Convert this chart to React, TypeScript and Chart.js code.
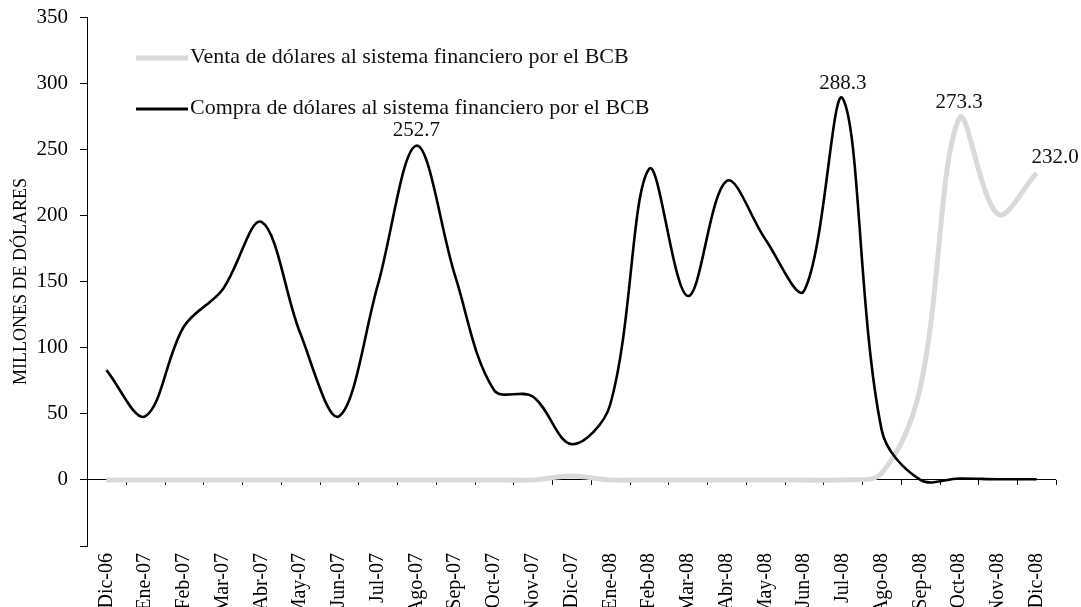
import React, { useEffect, useRef } from "react";
import { Chart, registerables } from "chart.js";

Chart.register(...registerables);

const FONT = "'Liberation Serif', 'Times New Roman', serif";

const categories = [
  "Dic-06", "Ene-07", "Feb-07", "Mar-07", "Abr-07", "May-07", "Jun-07", "Jul-07",
  "Ago-07", "Sep-07", "Oct-07", "Nov-07", "Dic-07", "Ene-08", "Feb-08", "Mar-08",
  "Abr-08", "May-08", "Jun-08", "Jul-08", "Ago-08", "Sep-08", "Oct-08", "Nov-08", "Dic-08",
];

const ventaLabel = "Venta de dólares al sistema financiero por el BCB";
const compraLabel = "Compra de dólares al sistema financiero por el BCB";

const ventaValues = [
  0, 0, 0, 0, 0, 0, 0, 0, 0, 0, 0, 0, 3, 0, 0, 0, 0, 0, 0, 0, 5, 70, 273.3, 201, 232.0,
];
const compraValues = [
  83, 48, 116, 144, 195, 111, 48, 147, 252.7, 154, 68, 63, 27, 57, 235, 139, 226, 182, 143,
  288.3, 38, 0, 1, 0.5, 0.5,
];

// indices of points that carry a value label
const compraLabeled = [8, 19];
const ventaLabeled = [22, 24];

const yMin = -50;
const yMax = 350;
const yStep = 50;
const yTitle = "MILLONES DE DÓLARES";

const ventaColor = "#d9d9d9";
const compraColor = "#000000";

const PLOT = { left: 87, top: 17, right: 1056, bottom: 546 };

const overlayPlugin = {
  id: "overlay",
  beforeDatasetsDraw(chart: any) {
    const { ctx, scales } = chart;
    const xs = scales.x;
    const ys = scales.y;
    const y0 = ys.getPixelForValue(0);
    const n = categories.length;
    const step = n > 1 ? xs.getPixelForTick(1) - xs.getPixelForTick(0) : 0;
    ctx.save();
    ctx.strokeStyle = "#000";
    ctx.lineWidth = 1;
    for (let i = 0; i < n; i++) {
      const px = Math.round(xs.getPixelForTick(i) + step / 2) + 0.5;
      ctx.beginPath();
      ctx.moveTo(px, y0);
      ctx.lineTo(px, y0 + 5);
      ctx.stroke();
    }
    ctx.restore();
  },
  afterDatasetsDraw(chart: any) {
    const { ctx, scales, chartArea } = chart;
    const xs = scales.x;
    const ys = scales.y;
    ctx.save();
    ctx.font = `21px ${FONT}`;
    ctx.fillStyle = "#111";
    ctx.textBaseline = "bottom";
    const drawLabels = (vals: number[], idxs: number[]) => {
      idxs.forEach((i) => {
        const px = xs.getPixelForValue(i);
        const py = ys.getPixelForValue(vals[i]);
        const last = i === categories.length - 1;
        ctx.textAlign = last ? "left" : "center";
        ctx.fillText(vals[i].toFixed(1), last ? px - 5 : px, py - 5);
      });
    };
    drawLabels(compraValues, compraLabeled);
    drawLabels(ventaValues, ventaLabeled);

    // legend
    const lx0 = chartArea.left + 49;
    const lx1 = chartArea.left + 101;
    const rows = [
      { y: chartArea.top + 41, color: ventaColor, width: 5, text: ventaLabel },
      { y: chartArea.top + 92, color: compraColor, width: 3, text: compraLabel },
    ];
    ctx.textAlign = "left";
    ctx.textBaseline = "middle";
    ctx.font = `22px ${FONT}`;
    rows.forEach((r) => {
      ctx.strokeStyle = r.color;
      ctx.lineWidth = r.width;
      ctx.beginPath();
      ctx.moveTo(lx0, r.y);
      ctx.lineTo(lx1, r.y);
      ctx.stroke();
      ctx.fillStyle = "#111";
      ctx.fillText(r.text, lx1 + 2, r.y - 1);
    });
    ctx.restore();
  },
};

export default function App() {
  const canvasRef = useRef<HTMLCanvasElement | null>(null);

  useEffect(() => {
    if (!canvasRef.current) return;
    const chart = new Chart(canvasRef.current, {
      type: "line",
      data: {
        labels: categories,
        datasets: [
          {
            label: ventaLabel,
            data: ventaValues,
            borderColor: ventaColor,
            borderWidth: 5,
            pointRadius: 0,
            tension: 0.35,
            fill: false,
            order: 1,
          },
          {
            label: compraLabel,
            data: compraValues,
            borderColor: compraColor,
            borderWidth: 2.6,
            pointRadius: 0,
            tension: 0.35,
            fill: false,
            order: 0,
          },
        ],
      },
      options: {
        animation: false,
        responsive: false,
        layout: { padding: { top: PLOT.top, right: 1081 - PLOT.right, bottom: 0, left: 0 } },
        plugins: {
          legend: { display: false },
          tooltip: { enabled: false },
          title: { display: false },
        },
        scales: {
          x: {
            type: "category",
            offset: true,
            grid: { display: false, drawTicks: false },
            border: { display: false },
            ticks: {
              autoSkip: false,
              maxRotation: 90,
              minRotation: 90,
              padding: 7,
              color: "#000",
              font: { family: FONT, size: 20 },
            },
            afterFit(scale: any) {
              scale.height = 607 - PLOT.bottom;
              scale.paddingTop = 0;
              scale.paddingBottom = 0;
              scale.paddingLeft = 0;
              scale.paddingRight = 0;
            },
          },
          y: {
            min: yMin,
            max: yMax,
            ticks: {
              stepSize: yStep,
              color: "#000",
              padding: 12,
              font: { family: FONT, size: 21 },
              callback: (v: any) => (Number(v) === yMin ? "" : String(v)),
            },
            grid: {
              drawOnChartArea: true,
              color: (c: any) => (c.tick && c.tick.value === 0 ? "#000" : "rgba(0,0,0,0)"),
              tickColor: "#000",
              tickLength: 7,
              lineWidth: 1,
            },
            border: { display: true, color: "#000", width: 1 },
            title: {
              display: true,
              text: yTitle,
              color: "#000",
              font: { family: FONT, size: 18 },
              padding: { top: 10, bottom: 0 },
            },
            afterFit(scale: any) {
              scale.width = PLOT.left;
              scale.paddingTop = 0;
              scale.paddingBottom = 0;
            },
          },
        },
      },
      plugins: [overlayPlugin],
    });
    return () => chart.destroy();
  }, []);

  return (
    <div style={{ position: "fixed", left: 0, top: 0, width: 1081, height: 607, background: "#fff" }}>
      <canvas ref={canvasRef} width={1081} height={607} style={{ display: "block" }} />
    </div>
  );
}
